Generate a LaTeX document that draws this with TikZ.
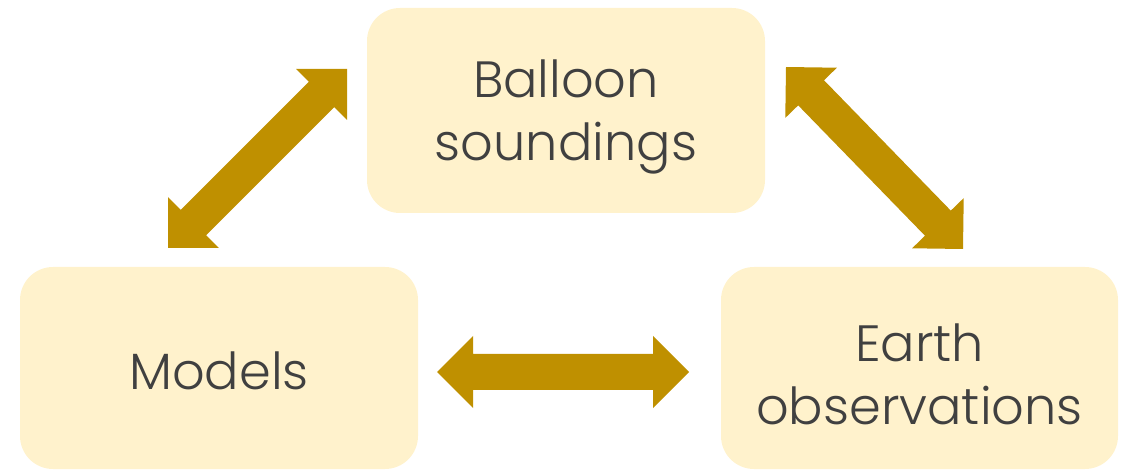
\documentclass[tikz,border=0pt]{standalone}
\usepackage{fontspec}
\setmainfont{Poppins}[UprightFont=* Light]
\usetikzlibrary{calc}
\definecolor{boxfill}{HTML}{FFF2CC}
\definecolor{arrowcol}{HTML}{BF9000}
\definecolor{textcol}{HTML}{404040}
\newcommand{\dblarrowpath}[2]{%
  \coordinate (#1h) at ($(#1)!36pt!(#2)$);
  \coordinate (#2h) at ($(#2)!36pt!(#1)$);
  \fill[arrowcol] (#1)
    -- ($(#1h)!36pt!90:(#2)$) -- ($(#1h)!18pt!90:(#2)$)
    -- ($(#2h)!18pt!-90:(#1)$) -- ($(#2h)!36pt!-90:(#1)$)
    -- (#2)
    -- ($(#2h)!36pt!90:(#1)$) -- ($(#2h)!18pt!90:(#1)$)
    -- ($(#1h)!18pt!-90:(#2)$) -- ($(#1h)!36pt!-90:(#2)$)
    -- cycle;}
\begin{document}
\begin{tikzpicture}[x=1pt,y=-1pt,
  box/.style={fill=boxfill, rounded corners=33pt, inner sep=0pt},
  lbl/.style={text=textcol, align=center, font=\fontsize{51}{63}\selectfont}]
\useasboundingbox (0,0) rectangle (1125,470);
% boxes
\path[box] (367,8) rectangle (765,213);
\path[box] (20,267) rectangle (418,469);
\path[box] (721,267) rectangle (1118,469);
\node[lbl] (bal) at (566,117) {Balloon\\soundings};
\node[lbl] (mod) at (219,371) {Models};
\node[lbl] (ear) at (919.5,374) {Earth\\observations};
% arrow tips
\coordinate (a1) at (168,248);
\coordinate (a2) at (347,69);
\coordinate (b1) at (786,67);
\coordinate (b2) at (963,249);
\coordinate (c1) at (437,372);
\coordinate (c2) at (689,372);
\dblarrowpath{a1}{a2}
\dblarrowpath{b1}{b2}
\dblarrowpath{c1}{c2}
\end{tikzpicture}
\end{document}
